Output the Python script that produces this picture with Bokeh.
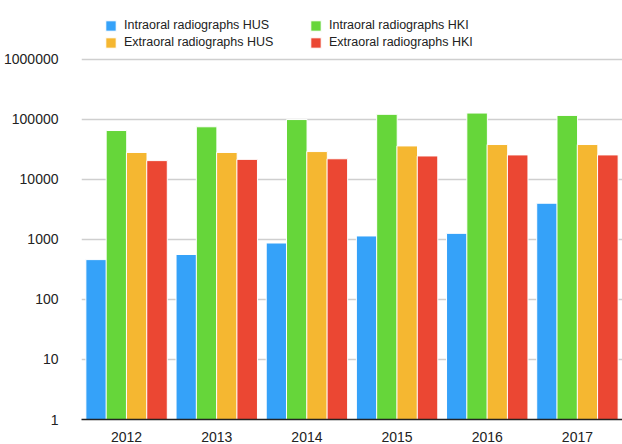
from bokeh.plotting import figure
from bokeh.models import (ColumnDataSource, FactorRange, Range1d, FixedTicker,
                          PrintfTickFormatter, Legend, LegendItem)
from bokeh.transform import dodge
from bokeh.embed import file_html
from bokeh.resources import INLINE

years = ["2012", "2013", "2014", "2015", "2016", "2017"]
intra_hus = [460, 560, 870, 1140, 1260, 4000]
intra_hki = [65000, 75000, 99000, 121000, 127000, 116000]
extra_hus = [28000, 28000, 29000, 36000, 38000, 38000]
extra_hki = [20500, 21500, 22000, 24500, 25500, 25500]

series_names = ["Intraoral radiographs HUS", "Intraoral radiographs HKI",
                "Extraoral radiographs HUS", "Extraoral radiographs HKI"]
series_keys = ["intra_hus", "intra_hki", "extra_hus", "extra_hki"]
colors = ["#35A2F9", "#66D63A", "#F5B731", "#EB4733"]
y_ticks = [1, 10, 100, 1000, 10000, 100000, 1000000]

source = ColumnDataSource(dict(years=years, intra_hus=intra_hus, intra_hki=intra_hki,
                               extra_hus=extra_hus, extra_hki=extra_hki))

# y range extends above the top tick to leave room for the legend inside the frame
p = figure(width=622, height=444, output_backend="svg", toolbar_location=None,
           x_range=FactorRange(*years, range_padding=0), y_axis_type="log",
           y_range=Range1d(1, 7000000), min_border_left=81, min_border_right=0,
           min_border_top=8, min_border_bottom=24)
p.outline_line_color = None

width = 0.228
offsets = [-0.3375, -0.1125, 0.1125, 0.3375]
renderers = []
for key, off, col in zip(series_keys, offsets, colors):
    r = p.vbar(x=dodge("years", off, range=p.x_range), top=key, bottom=1, width=width,
               source=source, fill_color=col, line_color="white", line_width=1)
    renderers.append(r)

p.xgrid.grid_line_color = None
p.ygrid.grid_line_color = "#cfcfcf"
p.ygrid.grid_line_width = 1.5
p.ygrid.ticker = FixedTicker(ticks=y_ticks)

p.yaxis.ticker = FixedTicker(ticks=y_ticks, minor_ticks=[])
p.yaxis.formatter = PrintfTickFormatter(format="%d")
p.yaxis.axis_line_color = None
p.yaxis.major_tick_line_color = None
p.yaxis.minor_tick_line_color = None
p.yaxis.major_label_standoff = 17
p.yaxis.major_label_text_font = "Liberation Sans"
p.yaxis.major_label_text_font_size = "14px"
p.yaxis.major_label_text_color = "#222222"

p.xaxis.axis_line_color = "#222222"
p.xaxis.axis_line_width = 1.5
p.xaxis.major_tick_line_color = None
p.xaxis.minor_tick_line_color = None
p.xaxis.major_label_standoff = 6
p.xaxis.major_label_text_font = "Liberation Sans"
p.xaxis.major_label_text_font_size = "14px"
p.xaxis.major_label_text_color = "#222222"

items = [LegendItem(label=n, renderers=[r]) for n, r in zip(series_names, renderers)]
legend = Legend(items=items, location=(23, 370), orientation="horizontal", ncols=2,
                glyph_width=13, glyph_height=13, label_standoff=7, label_width=182,
                label_height=14, spacing=3, padding=0, margin=0,
                border_line_color=None, background_fill_alpha=0,
                label_text_font="Liberation Sans", label_text_font_size="12.5px",
                label_text_color="#222222")
p.add_layout(legend, "center")

open("out.html", "w").write(file_html(p, INLINE))
